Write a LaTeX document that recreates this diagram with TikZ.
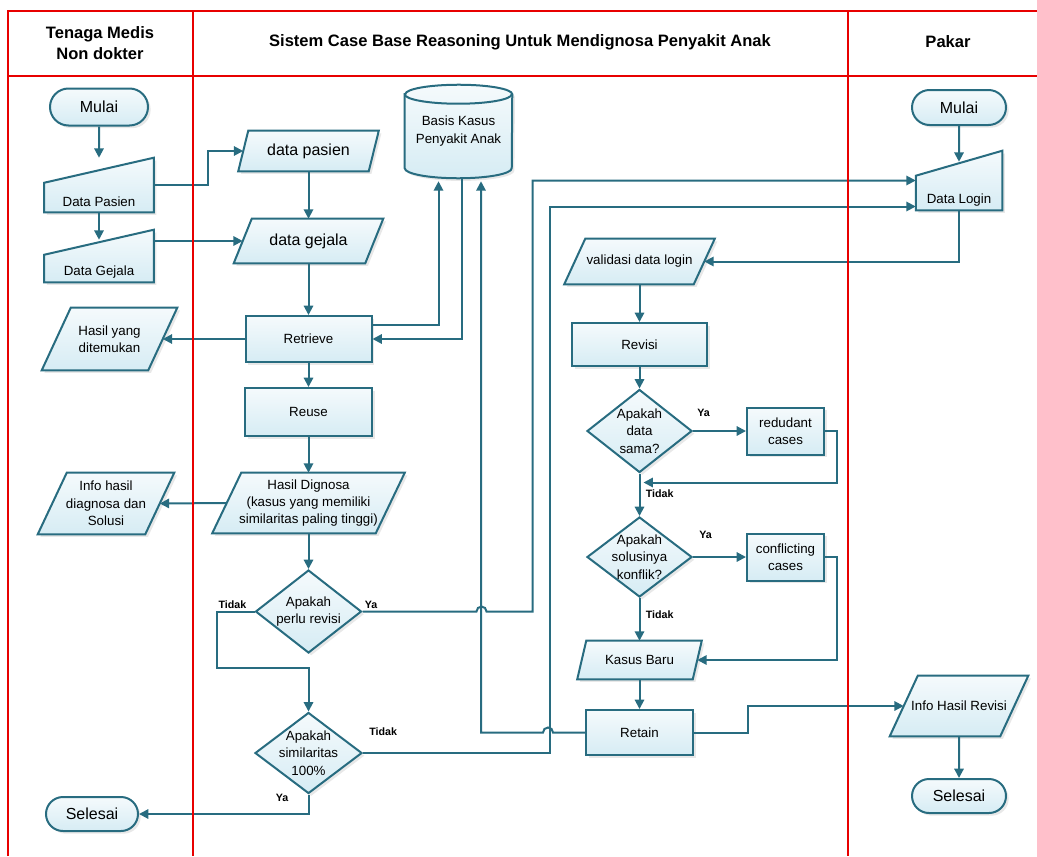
\documentclass[tikz,border=0pt]{standalone}
\usepackage{fontspec}
\setmainfont{Liberation Sans}
\usepackage{color}
\definecolor{myteal}{RGB}{40,108,128}
\definecolor{mytop}{RGB}{245,250,252}
\definecolor{mybot}{RGB}{214,236,244}
\definecolor{mylane}{RGB}{232,0,0}
\usepackage{tikz}
\usetikzlibrary{calc,shapes.geometric,shapes.misc,arrows.meta,positioning,shadows,backgrounds}
\tikzstyle{shapebase}=[draw=myteal,line width=1.5pt,top color=mytop,bottom color=mybot,drop shadow={shadow xshift=2pt,shadow yshift=-2pt,opacity=0.18},font=\fontsize{10}{13}\selectfont,align=center,inner sep=0pt]
\tikzstyle{terminal}=[shapebase,rounded rectangle,font=\fontsize{12}{14}\selectfont]
\tikzstyle{process}=[shapebase,rectangle]
\tikzstyle{decision}=[shapebase,diamond,inner sep=-12pt]
\tikzstyle{manin}=[rectangle,inner sep=0pt,font=\fontsize{10}{13}\selectfont]
\tikzstyle{datain}=[rectangle,inner sep=0pt,align=center,font=\fontsize{10}{13}\selectfont]
\tikzstyle{shapefill}=[draw=myteal,line width=1.5pt,top color=mytop,bottom color=mybot,drop shadow={shadow xshift=2pt,shadow yshift=-2pt,opacity=0.18}]
\tikzstyle{flow}=[draw=myteal,line width=1.5pt,-{Triangle[length=7pt,width=7pt]}]
\tikzstyle{lane}=[draw=mylane,line width=2.2pt]
\tikzstyle{hdr}=[font=\bfseries\fontsize{12.4}{15.5}\selectfont,align=center]
\tikzstyle{lbl}=[font=\bfseries\fontsize{8}{10}\selectfont,inner sep=0pt]

\begin{document}
\begin{tikzpicture}[x=0.75pt,y=-0.75pt]
\useasboundingbox (0,0) rectangle (1037,856);
% headers
\draw (100,43) node [hdr] (hMedis) {Tenaga Medis\\Non dokter};
\draw (520,42) node [hdr] (hSistem) {Sistem Case Base Reasoning Untuk Mendignosa Penyakit Anak};
\draw (948,42) node [hdr] (hPakar) {Pakar};
% tenaga medis
\draw (99,107) node [terminal, minimum width=73.5pt, minimum height=27.75pt] (mulaiA) {Mulai};
\draw (99,185) node [manin, minimum width=81.75pt, minimum height=40.5pt, label={[yshift=-12.5pt]center:Data Pasien}] (dpA) {};
\draw (99,256) node [manin, minimum width=81.75pt, minimum height=39pt, label={[yshift=-12.3pt]center:Data Gejala}] (dgA) {};
\draw (109.5,339) node [datain, minimum width=101.25pt, minimum height=46.5pt] (hasilA) {Hasil yang\\ditemukan};
\draw (106,503.5) node [datain, minimum width=102pt, minimum height=45.75pt] (infoA) {Info hasil\\diagnosa dan\\Solusi};
\draw (92,814) node [terminal, minimum width=69pt, minimum height=25.5pt] (selesaiA) {Selesai};
% sistem
\draw (308.5,151) node [datain, minimum width=105pt, minimum height=30pt, font=\fontsize{12}{14}\selectfont] (dpasienB) {data pasien};
\draw (308.5,241) node [datain, minimum width=111.75pt, minimum height=33pt, font=\fontsize{12}{14}\selectfont] (dgejalaB) {data gejala};
\draw (458.5,131.5) node [datain, minimum width=80.25pt, minimum height=69.75pt, font=\fontsize{10}{13.5}\selectfont] (basis) {Basis Kasus\\Penyakit Anak};
\draw (308.5,339) node [process, minimum width=94.5pt, minimum height=34.5pt] (retrieve) {Retrieve};
\draw (308.5,412) node [process, minimum width=95.25pt, minimum height=36pt] (reuse) {Reuse};
\draw (308.5,503) node [datain, minimum width=144pt, minimum height=45pt] (hasilD) {Hasil Dignosa\\(kasus yang memiliki\\similaritas paling tinggi)};
\draw (308.5,611.5) node [decision, minimum width=79.5pt, minimum height=62.25pt] (revisiD) {Apakah\\perlu revisi};
\draw (308.5,753) node [decision, minimum width=80.25pt, minimum height=60.75pt] (simD) {Apakah\\similaritas\\100\%};
\draw (639.5,261.5) node [datain, minimum width=112.5pt, minimum height=33.75pt] (validasi) {validasi data login};
\draw (639.5,344.5) node [process, minimum width=101.25pt, minimum height=32.25pt] (revisi) {Revisi};
\draw (639.5,431) node [decision, minimum width=78.75pt, minimum height=62.25pt] (samaD) {Apakah\\data\\sama?};
\draw (785.5,431) node [process, minimum width=57.75pt, minimum height=35.25pt] (redudant) {redudant\\cases};
\draw (639.5,557) node [decision, minimum width=78.75pt, minimum height=60pt] (konflikD) {Apakah\\solusinya\\konflik?};
\draw (785.5,557) node [process, minimum width=57.75pt, minimum height=35.25pt] (conflicting) {conflicting\\cases};
\draw (639.5,660) node [datain, minimum width=93pt, minimum height=28.5pt] (kasusBaru) {Kasus Baru};
\draw (639.5,732.5) node [process, minimum width=80.25pt, minimum height=33.75pt] (retain) {Retain};
% pakar
\draw (959,107.5) node [terminal, minimum width=70.5pt, minimum height=26.25pt] (mulaiC) {Mulai};
\draw (959,180.5) node [manin, minimum width=64.5pt, minimum height=44.25pt, label={[yshift=-14.5pt]center:Data Login}] (loginC) {};
\draw (959,706) node [datain, minimum width=103.5pt, minimum height=45pt] (infoRev) {Info Hasil Revisi};
\draw (959,796) node [terminal, minimum width=70.5pt, minimum height=25.5pt] (selesaiC) {Selesai};
\begin{scope}[on background layer]
\foreach \n in {dpA,dgA,loginC}
  \path[shapefill] (\n.south west) -- ($(\n.north west)+(0,25)$) -- (\n.north east) -- (\n.south east) -- cycle;
\foreach \n/\s in {hasilA/29,infoA/29,dpasienB/10,dgejalaB/18,hasilD/29,validasi/21,kasusBaru/9,infoRev/28}
  \path[shapefill] (\n.south west) -- ($(\n.north west)+(\s,0)$) -- (\n.north east) -- ($(\n.south east)-(\s,0)$) -- cycle;
% tabung basis kasus
\path[shapefill] ($(basis.north west)+(0,9.5)$) -- ($(basis.south west)+(0,-10)$)
  arc[start angle=180, end angle=0, x radius=53.5, y radius=10] -- ($(basis.north east)+(0,9.5)$)
  arc[start angle=0, end angle=-180, x radius=53.5, y radius=9.5] -- cycle;
\draw[draw=myteal, line width=1.5pt] ($(basis.north west)+(0,9.5)$) arc[start angle=180, end angle=0, x radius=53.5, y radius=9.5];
\end{scope}
% alur
\draw[flow] (mulaiA) -- (dpA);
\draw[flow] (dpA) -- ($(dgA.north)+(0,10)$);
\draw[flow] (dpA.east) -- ++(54,0) |- ($(dpasienB.west)+(5,0)$);
\draw[flow] (dgA.east |- dgejalaB.west) -- ($(dgejalaB.west)+(9,0)$);
\draw[flow] (dpasienB) -- (dgejalaB);
\draw[flow] (dgejalaB) -- (retrieve);
\draw[flow] ($(retrieve.east)+(0,-14)$) -| ($(basis.south)+(-20,3)$);
\draw[flow] ($(basis.south)+(3,0)$) |- (retrieve.east);
\draw[flow] (retrieve) -- ($(hasilA.east)+(-14.5,0)$);
\draw[flow] (retrieve) -- (reuse);
\draw[flow] (reuse) -- (hasilD);
\draw[flow] ($(hasilD.west)+(14.5,0)$) -- ($(infoA.east)+(-14.5,0)$);
\draw[flow] (hasilD) -- (revisiD);
\draw[flow] (revisiD.west) -- ++(-38,0) -- ++(0,56) -| (simD.north);
\draw[flow] (revisiD.east) -- ++(114,0) arc (180:360:5) -- ++(46,0) |- (loginC.west);
\draw[flow] (simD.east) -- ++(187,0) |- ($(loginC.west)+(0,26)$);
\draw[flow] (simD.south) |- (selesaiA.east);
\draw[flow] (retain.west) -- ++(-32,0) arc (0:-180:5) -| ($(basis.south)+(22.5,3)$);
\draw[flow] (retain.east) -- ++(54,0) |- ($(infoRev.west)+(14,0)$);
\draw[flow] (infoRev) -- (selesaiC);
\draw[flow] (mulaiC) -- ($(loginC.north)+(0,11)$);
\draw[flow] (loginC.south) |- ($(validasi.east)+(-10.5,0)$);
\draw[flow] (validasi) -- (revisi);
\draw[flow] (revisi) -- (samaD);
\draw[flow] (samaD) -- (redudant);
\draw[flow] (redudant.east) -- ++(12,0) |- ($(samaD.south)+(4,9)$);
\draw[flow] (samaD) -- (konflikD);
\draw[flow] (konflikD) -- (conflicting);
\draw[flow] (conflicting.east) -- ++(12,0) |- ($(kasusBaru.east)+(-4.5,0)$);
\draw[flow] (konflikD) -- (kasusBaru);
\draw[flow] (kasusBaru) -- (retain);
% label ya / tidak
\node[lbl, anchor=south east] (tidak1) at ($(revisiD.west)+(-8,-3)$) {Tidak};
\node[lbl, anchor=south west] (ya1) at ($(revisiD.east)+(2,-3)$) {Ya};
\node[lbl, anchor=south west] (tidak2) at ($(simD.east)+(6,-17)$) {Tidak};
\node[lbl, anchor=east] (ya2) at ($(simD.south)+(-20,3)$) {Ya};
\node[lbl, anchor=south west] (ya3) at ($(samaD.east)+(4,-14)$) {Ya};
\node[lbl, anchor=west] (tidak3) at ($(samaD.south)+(6,20)$) {Tidak};
\node[lbl, anchor=south west] (ya4) at ($(konflikD.east)+(6,-18)$) {Ya};
\node[lbl, anchor=west] (tidak4) at ($(konflikD.south)+(6,17)$) {Tidak};
% swimlane
\draw[lane] (8,856) -- (8,11) -- (1037,11);
\draw[lane] (8,76) -- (1037,76);
\draw[lane] (193,11) -- (193,856);
\draw[lane] (848,11) -- (848,856);
\end{tikzpicture}
\end{document}
